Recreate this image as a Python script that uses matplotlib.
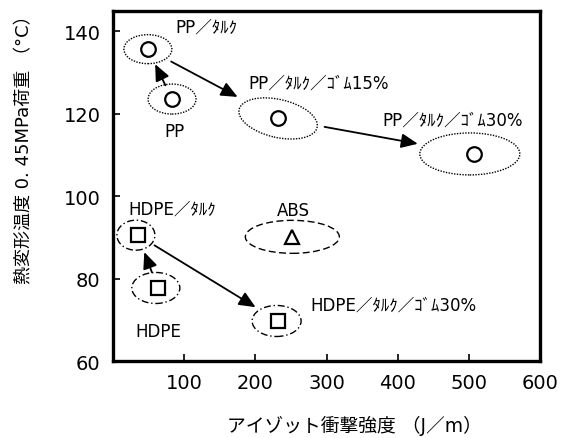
import matplotlib
matplotlib.use('Agg')
import matplotlib.pyplot as plt
from matplotlib.patches import Ellipse
from matplotlib.transforms import ScaledTranslation

plt.rcParams['font.family'] = ['DejaVu Sans', 'Noto Sans CJK JP']

# Materials: Izod impact strength (J/m) vs heat deflection temperature at 0.45 MPa
names = ['PP', 'PP／ﾀﾙｸ', 'PP／ﾀﾙｸ／ｺﾞﾑ15%', 'PP／ﾀﾙｸ／ｺﾞﾑ30%',
         'HDPE', 'HDPE／ﾀﾙｸ', 'HDPE／ﾀﾙｸ／ｺﾞﾑ30%', 'ABS']
impact = [83, 49, 232, 507, 63, 35, 232, 252]
hdt = [123.5, 135.6, 118.8, 110.2, 77.7, 90.5, 69.7, 90.1]
markers = ['o', 'o', 'o', 'o', 's', 's', 's', '^']

# label offsets in points from each marker
label_off = [(2, -23), (42, 16), (29, 26), (-15, 25),
             (0, -31), (25, 19.5), (83, 11.5), (1, 19)]

# ellipse around each marker: width, height (inches), angle, dx (inches), line style
ell = [(0.48, 0.30, 0, 0.0, (0, (1, 1))),
       (0.48, 0.29, 0, 0.0, (0, (1, 1))),
       (0.80, 0.38, -13, 0.0, (0, (1, 1))),
       (1.00, 0.42, 0, -0.04, (0, (1, 1))),
       (0.48, 0.31, 0, -0.02, (0, (5, 2, 1, 2))),
       (0.38, 0.30, 0, -0.02, (0, (5, 2, 1, 2))),
       (0.49, 0.31, 0, -0.015, (0, (5, 2, 1, 2))),
       (0.94, 0.33, 0, 0.0, (0, (5, 2.5)))]

# arrows: from index, to index, shrinkA, shrinkB (points)
arrows = [(0, 1, 11, 12), (1, 2, 19, 33), (2, 3, 34, 41),
          (4, 5, 12, 13), (5, 6, 14, 19)]

fig = plt.figure(figsize=(5.71, 4.39), dpi=100)
ax = fig.add_axes([113 / 571, 77 / 439, 427 / 571, 350 / 439])
ax.set_xlim(0, 600)
ax.set_ylim(60, 144.85)

for x, y, m in zip(impact, hdt, markers):
    ax.plot(x, y, marker=m, ms=10.5 if m == 'o' else 9.5, mfc='none',
            mec='black', mew=1.6, ls='none', zorder=3)

for (w, h, ang, dx, ls), x, y in zip(ell, impact, hdt):
    tr = fig.dpi_scale_trans + ScaledTranslation(x, y, ax.transData)
    ax.add_patch(Ellipse((dx, 0), w, h, angle=ang, fill=False, ec='black',
                         lw=1.0, ls=ls, transform=tr, zorder=2))

for name, x, y, off in zip(names, impact, hdt, label_off):
    ax.annotate(name, (x, y), xytext=off, textcoords='offset points',
                ha='center', va='center', fontsize=12)

for a, b, sa, sb in arrows:
    ax.annotate('', xy=(impact[b], hdt[b]), xytext=(impact[a], hdt[a]),
                arrowprops=dict(arrowstyle='-|>,head_length=0.5,head_width=0.22',
                                mutation_scale=20, color='black', lw=1.3,
                                shrinkA=sa, shrinkB=sb))

ax.set_xticks([100, 200, 300, 400, 500, 600])
ax.set_yticks([60, 80, 100, 120, 140])
ax.tick_params(direction='in', length=5, width=1.2, labelsize=14, pad=9)
for s in ax.spines.values():
    s.set_linewidth(2.4)

fig.text(24 / 571, 1 - 145 / 439, '熱変形温度 0. 45MPa荷重 （°C）', rotation=90,
         ha='center', va='center', fontsize=13)
fig.text(354 / 571, 1 - 426 / 439, 'アイゾット衝撃強度 （J／m）',
         ha='center', va='center', fontsize=13.5)

fig.savefig('out.png', dpi=100)
